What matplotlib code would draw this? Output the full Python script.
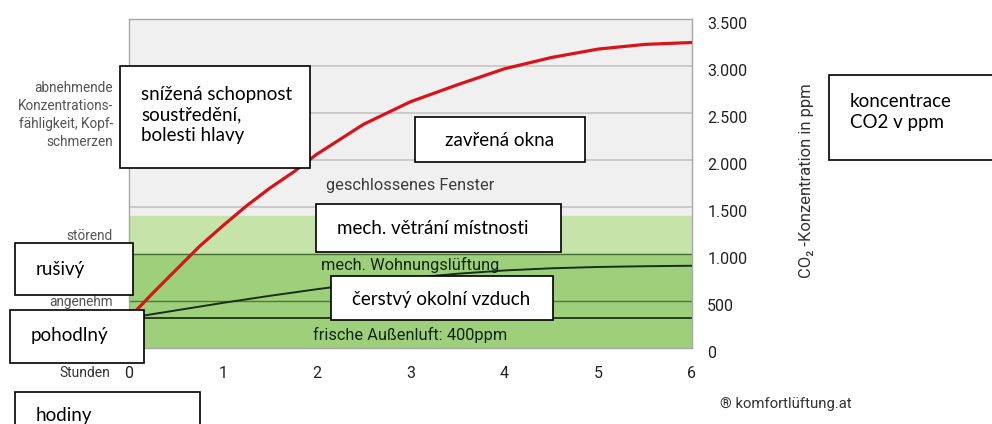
import matplotlib
matplotlib.use("Agg")
import matplotlib.pyplot as plt
import matplotlib.transforms as mtransforms
from matplotlib.patches import Rectangle

# hours vs. CO2 (ppm)
hours_closed = [0, 0.25, 0.5, 0.75, 1.0, 1.25, 1.5, 1.75, 2.0, 2.5, 3.0, 3.5, 4.0, 4.5, 5.0, 5.5, 6.0]
co2_closed = [320, 580, 830, 1080, 1300, 1510, 1700, 1870, 2060, 2380, 2620, 2800, 2970, 3090, 3180, 3230, 3250]

hours_vent = [0, 0.5, 1, 1.5, 2, 2.5, 3, 3.5, 4, 4.5, 5, 5.5, 6]
co2_vent = [320, 400, 480, 555, 625, 690, 745, 790, 825, 848, 862, 870, 875]

fresh_air = 320
x_ticks = [0, 1, 2, 3, 4, 5, 6]
y_ticks = [0, 500, 1000, 1500, 2000, 2500, 3000, 3500]
y_labels = ['0', '500', '1.000', '1.500', '2.000', '2.500', '3.000', '3.500']
grid_levels = [1500, 2000, 2500, 3000]

W, H = 992, 424
COND = ['Roboto', 'DejaVu Sans']
BOX = ['Lato', 'DejaVu Sans']

fig = plt.figure(figsize=(W / 100, H / 100), dpi=100)
fig.patch.set_facecolor('white')

def fx(x):
    return x / W

def fy(y):
    return 1 - y / H

ax = fig.add_axes([fx(129), fy(348), (692 - 129) / W, (348 - 19) / H])
ax.set_xlim(0, 6)
ax.set_ylim(0, 3500)

# background bands
ax.axhspan(1400, 3500, color='#f0f0f0', zorder=0)
ax.axhspan(1000, 1400, color='#c6e4a9', zorder=0)
ax.axhspan(0, 1000, color='#9ecf7a', zorder=0)
for g in grid_levels:
    ax.axhline(g, color='#c4c4c4', lw=1.2, zorder=1)
ax.axhline(1000, color='#436f33', lw=1.0, zorder=1)
ax.axhline(500, color='#4d7d3a', lw=1.0, zorder=1)
ax.axhline(fresh_air, color='#24401f', lw=1.4, zorder=1)

ax.plot(hours_vent, co2_vent, color='#16301a', lw=1.4, zorder=3)
ax.plot(hours_closed, co2_closed, color='#d7141a', lw=2.3, zorder=3, solid_capstyle='butt')

for s in ax.spines.values():
    s.set_color('#a8a8a8')
    s.set_linewidth(1.0)

ax.yaxis.tick_right()
ax.set_yticks(y_ticks)
ax.set_yticklabels(y_labels, family=COND, fontsize=11.5, color='#222222')
ax.set_xticks(x_ticks)
ax.set_xticklabels([str(v) for v in x_ticks], family=COND, fontsize=11.5, color='#222222')
ax.tick_params(length=0)
ax.tick_params(axis='y', pad=11)
ax.tick_params(axis='x', pad=13)
off = mtransforms.ScaledTranslation(0, -4 / 100, fig.dpi_scale_trans)
for lab in ax.get_yticklabels():
    lab.set_transform(lab.get_transform() + off)

# labels inside the chart
ax.text(3, 1730, 'geschlossenes Fenster', ha='center', va='center',
        family=COND, fontsize=11.8, color='#3c3c3c', zorder=4)
ax.text(3, 880, 'mech. Wohnungslüftung', ha='center', va='center',
        family=COND, fontsize=11.8, color='#142412', zorder=4)
ax.text(3, 140, 'frische Außenluft: 400ppm', ha='center', va='center',
        family=COND, fontsize=11.8, color='#142412', zorder=4)

# labels around the chart (figure pixels)
def ftext(x, y, s, **kw):
    fig.text(fx(x), fy(y), s, **kw)

ftext(113, 115, 'abnehmende\nKonzentrations-\nfähligkeit, Kopf-\nschmerzen', ha='right', va='center',
      family=COND, fontsize=9.8, color='#555555', linespacing=1.38)
ftext(113, 236, 'störend', ha='right', va='center', family=COND, fontsize=9.8, color='#555555')
ftext(113, 302, 'angenehm', ha='right', va='center', family=COND, fontsize=9.8, color='#555555')
ftext(110, 373, 'Stunden', ha='right', va='center', family=COND, fontsize=10, color='#333333')
ftext(806, 181, 'CO₂ -Konzentration in ppm', ha='center', va='center', rotation=90,
      family=COND, fontsize=12, color='#333333')
ftext(720, 404, '® komfortlüftung.at', ha='left', va='center', family=COND, fontsize=10.7, color='#333333')

# white note boxes with Czech labels
def note(x0, y0, x1, y1, s, tx, ty):
    fig.patches.append(Rectangle((fx(x0), fy(y1)), (x1 - x0) / W, (y1 - y0) / H,
                                 transform=fig.transFigure, facecolor='white',
                                 edgecolor='black', lw=1.2, zorder=5))
    fig.text(fx(tx), fy(ty), s, ha='left', va='center', family=BOX, fontsize=13.5,
             color='black', zorder=6, linespacing=1.25)

note(120, 66, 310, 168, 'snížená schopnost\nsoustředění,\nbolesti hlavy', 141, 115)
note(415, 117, 585, 162, 'zavřená okna', 445, 140)
note(316, 204, 561, 252, 'mech. větrání místnosti', 337, 228)
note(331, 276, 553, 320, 'čerstvý okolní vzduch', 352, 299)
note(15, 243, 133, 295, 'rušivý', 36, 269)
note(10, 310, 144, 363, 'pohodlný', 31, 335)
note(15, 392, 200, 440, 'hodiny', 36, 415)
note(829, 75, 1000, 160, 'koncentrace\nCO2 v ppm', 850, 112)

fig.savefig('out.png', dpi=100, facecolor='white')
